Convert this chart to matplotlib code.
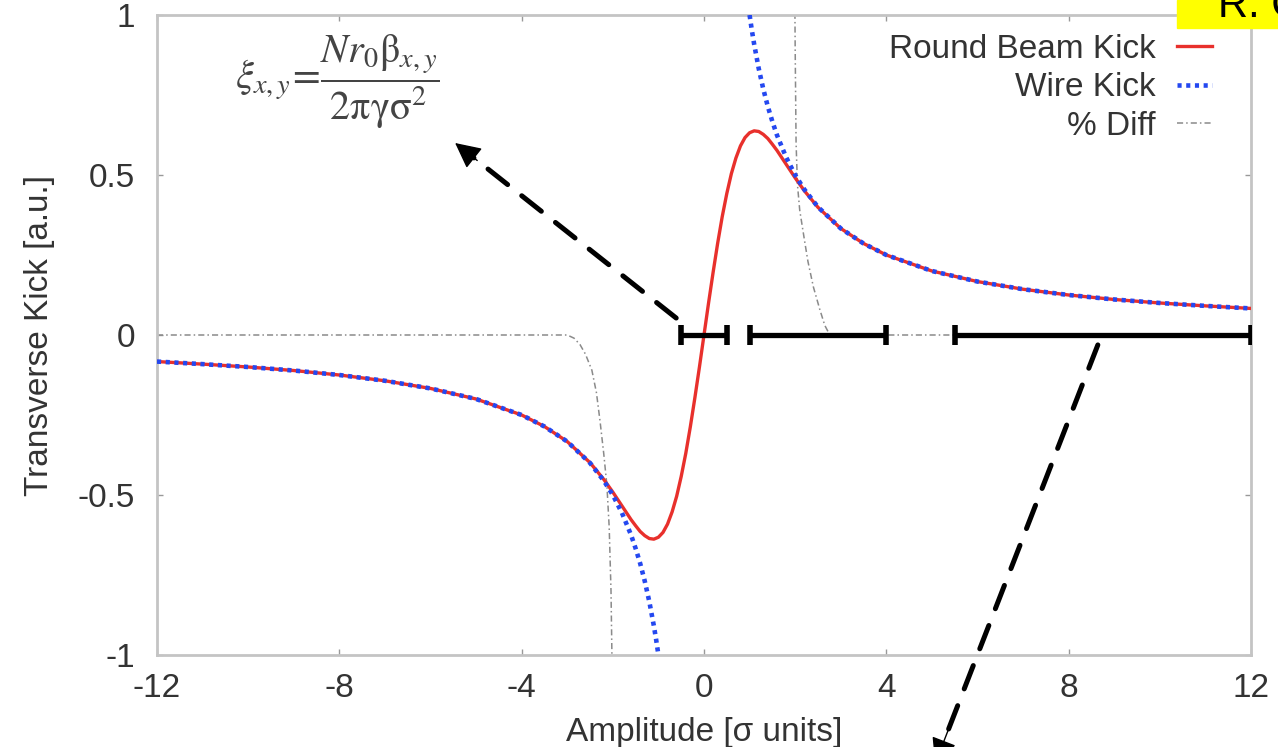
import numpy as np
import matplotlib.pyplot as plt
from matplotlib.patches import Rectangle

plt.rcParams['font.family'] = ['Liberation Sans', 'DejaVu Sans']
plt.rcParams['axes.unicode_minus'] = False
plt.rcParams['mathtext.fontset'] = 'stix'

# round beam kick
round_x = [-12, -11, -10, -9, -8, -7, -6, -5, -4, -3.5, -3, -2.5, -2.2, -2, -1.8,
           -1.6, -1.5, -1.4, -1.3, -1.2, -1.1, -1.0, -0.9, -0.8, -0.7, -0.6, -0.5,
           -0.4, -0.3, -0.2, -0.1, 0, 0.1, 0.2, 0.3, 0.4, 0.5, 0.6, 0.7, 0.8, 0.9,
           1.0, 1.1, 1.2, 1.3, 1.4, 1.5, 1.6, 1.8, 2, 2.2, 2.5, 3, 3.5, 4, 5, 6, 7,
           8, 9, 10, 11, 12]
round_y = [-0.083, -0.091, -0.100, -0.111, -0.125, -0.143, -0.167, -0.200, -0.250,
           -0.286, -0.333, -0.399, -0.451, -0.491, -0.534, -0.577, -0.596, -0.614,
           -0.627, -0.636, -0.638, -0.632, -0.617, -0.591, -0.553, -0.504, -0.442,
           -0.370, -0.287, -0.196, -0.100, 0.0, 0.100, 0.196, 0.287, 0.370, 0.442,
           0.504, 0.553, 0.591, 0.617, 0.632, 0.638, 0.636, 0.627, 0.614, 0.596,
           0.577, 0.534, 0.491, 0.451, 0.399, 0.333, 0.286, 0.250, 0.200, 0.167,
           0.143, 0.125, 0.111, 0.100, 0.091, 0.083]

# wire kick
wire_x = [-12, -11, -10, -9, -8, -7, -6, -5, -4, -3.5, -3, -2.5, -2.2, -2, -1.8,
          -1.6, -1.5, -1.4, -1.3, -1.2, -1.1, -1.05, -1.0, np.nan,
          1.0, 1.05, 1.1, 1.2, 1.3, 1.4, 1.5, 1.6, 1.8, 2, 2.2, 2.5, 3, 3.5, 4, 5,
          6, 7, 8, 9, 10, 11, 12]
wire_y = [-0.083, -0.091, -0.100, -0.111, -0.125, -0.143, -0.167, -0.200, -0.250,
          -0.286, -0.333, -0.400, -0.455, -0.500, -0.556, -0.625, -0.667, -0.714,
          -0.769, -0.833, -0.909, -0.952, -1.0, np.nan,
          1.0, 0.952, 0.909, 0.833, 0.769, 0.714, 0.667, 0.625, 0.556, 0.500,
          0.455, 0.400, 0.333, 0.286, 0.250, 0.200, 0.167, 0.143, 0.125, 0.111,
          0.100, 0.091, 0.083]

# % diff
diff_x = [-12, -3.0, -2.85, -2.72, -2.6, -2.46, -2.36, -2.28, -2.2, -2.13, -2.08,
          -2.04, -2.02, -2.01, np.nan,
          1.99, 2.0, 2.02, 2.05, 2.1, 2.2, 2.28, 2.4, 2.54, 2.65, 2.76, 12]
diff_y = [0, 0, -0.01, -0.03, -0.06, -0.11, -0.18, -0.27, -0.37, -0.47, -0.6,
          -0.8, -1.0, -1.1, np.nan,
          1.1, 0.9, 0.6, 0.47, 0.39, 0.3, 0.23, 0.15, 0.08, 0.03, 0.0, 0.0]

# amplitude ranges marked at zero
range_start = [-0.5, 1.0, 5.5]
range_end = [0.5, 4.0, 12.0]

xticks = [-12, -8, -4, 0, 4, 8, 12]
yticks = [-1, -0.5, 0, 0.5, 1]
yticklabels = ['-1', '-0.5', '0', '0.5', '1']

fig = plt.figure(figsize=(12.78, 7.47), dpi=100)
ax = fig.add_axes([157 / 1278, 1 - 655 / 747, 1094 / 1278, 640 / 747])

ax.plot(round_x, round_y, color='#e8302c', lw=2.4, label='Round Beam Kick', zorder=3)
ax.plot(wire_x, wire_y, color='#2448f0', lw=3.3, ls=(0, (0.9, 1.0)),
        label='Wire Kick', zorder=4)
ax.plot(diff_x, diff_y, color='#8a8a8a', lw=1.1, ls=(0, (4, 2, 1, 2)),
        label='% Diff', zorder=2)

starts = np.array(range_start)
ends = np.array(range_end)
ax.errorbar(starts, np.zeros(len(starts)),
            xerr=[np.zeros(len(starts)), ends - starts],
            fmt='none', ecolor='black', elinewidth=3.8, capsize=7,
            capthick=4, zorder=5)

ax.set_xlim(-12, 12)
ax.set_ylim(-1, 1)
ax.set_xticks(xticks)
ax.set_yticks(yticks)
ax.set_yticklabels(yticklabels)
ax.tick_params(direction='in', length=4, width=1, color='#999999',
               labelsize=24, labelcolor='#333333', top=True, right=True)
ax.tick_params(axis='y', pad=16)
ax.tick_params(axis='x', pad=13)
for s in ax.spines.values():
    s.set_color('#c4c4c4')
    s.set_linewidth(2)

ax.set_xlabel('Amplitude [σ units]', fontsize=24, color='#333333', labelpad=9)
ax.set_ylabel('Transverse Kick [a.u.]', fontsize=24, color='#333333', labelpad=16)

leg = ax.legend(loc='upper right', bbox_to_anchor=(1212 / 1278, 1 - 34 / 747),
                bbox_transform=fig.transFigure, frameon=False, markerfirst=False,
                fontsize=24, handlelength=1.05, handletextpad=0.65,
                labelspacing=0.22, borderpad=0, borderaxespad=0)
for t in leg.get_texts():
    t.set_color('#333333')

# formula
ax.text(-8.05, 0.79, r'$\xi_{x,y}\!=\!\dfrac{Nr_0\mathrm{\beta}_{x,y}}{2\mathrm{\pi\gamma\sigma}^2}$',
        fontsize=29, color='#444444', ha='center', va='center')

# dashed arrows: dashed shaft plus solid head
arrows = [((-0.61, 0.053), (-5.46, 0.6)), ((8.64, -0.031), (5.07, -1.34))]
for (x0, y0), (x1, y1) in arrows:
    ax.annotate('', xy=(x1 + 0.06 * (x0 - x1), y1 + 0.06 * (y0 - y1)), xytext=(x0, y0),
                annotation_clip=False,
                arrowprops=dict(arrowstyle='-', lw=3.6, ls=(0, (5, 3.6)),
                                color='black', shrinkA=0, shrinkB=0, clip_on=False))
    ax.annotate('', xy=(x1, y1), xytext=(x1 + 0.1 * (x0 - x1), y1 + 0.1 * (y0 - y1)),
                annotation_clip=False,
                arrowprops=dict(arrowstyle='-|>', lw=1, color='black',
                                mutation_scale=40, shrinkA=0, shrinkB=0,
                                clip_on=False))

# yellow author tag, cut at the figure edge
fig.patches.append(Rectangle((1177 / 1278, 1 - 28 / 747), 101 / 1278, 28 / 747,
                             transform=fig.transFigure, color='#ffff00', zorder=10))
fig.text(1218 / 1278, 1 - 17 / 747, 'R. C', fontsize=30, color='black',
         va='baseline', ha='left', zorder=11)

fig.savefig('out.png', dpi=100)
